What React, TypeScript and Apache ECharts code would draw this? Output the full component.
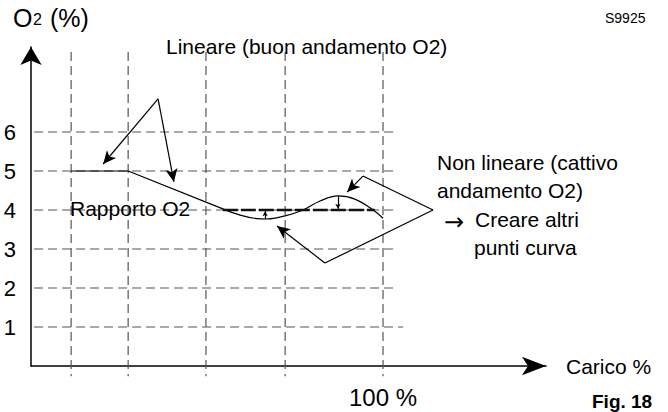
import React, { useEffect, useRef } from "react";
import * as echarts from "echarts";

// ---- data (load % on x, O2 % on y) ----
const yTickLabels = [1, 2, 3, 4, 5, 6];
const guideX = [11.4, 27.6, 49.7, 72.2, 100]; // vertical dashed guides
const guideTop = 8.05;
const guideBottom = -0.26;
const hGuideStart = -3.1;
const hGuideEnd = [105.7, 103.4, 103.4, 103.4, 103.4, 103.4];

const linearPart = [
  [11.4, 5.0],
  [27.6, 5.0],
  [54.5, 4.03],
];
const wavePart = [
  [54.5, 4.03],
  [59.4, 3.87],
  [64.2, 3.78],
  [67.0, 3.77],
  [72.2, 3.85],
  [77.3, 4.0],
  [82.1, 4.23],
  [87.2, 4.36],
  [92.0, 4.28],
  [97.2, 4.0],
  [100.0, 3.79],
];
const targetRatio = [
  [54.5, 4.0],
  [97.7, 4.0],
];

// annotation pointers
const linApex = [36.1, 6.85];
const linTips = [
  [20.5, 5.18],
  [40.6, 4.72],
];
const nlTopCorner = [94.3, 4.87];
const nlTopTip = [89.8, 4.46];
const nlApex = [114.2, 4.0];
const nlBottomCorner = [83.5, 2.64];
const nlBottomTip = [69.9, 3.59];
const devArrows = [
  [[66.5, 3.77], [66.5, 3.97]],
  [[87.2, 4.36], [87.2, 4.03]],
];

const FONT = "'Liberation Sans', Arial, sans-serif";

export default function App() {
  const ref = useRef<HTMLDivElement>(null);
  useEffect(() => {
    if (!ref.current) return;
    const chart = echarts.init(ref.current, null, { renderer: "svg" });

    const gridColor = "#555";
    const dash = [9, 5];
    const series: any[] = [];

    hGuideEnd.forEach((end, i) => {
      const y = yTickLabels[i];
      series.push({
        type: "line",
        clip: false,
        silent: true,
        symbol: "none",
        z: 1,
        data: [
          [hGuideStart, y],
          [end, y],
        ],
        lineStyle: { color: gridColor, width: 1.2, type: dash },
      });
    });
    guideX.forEach((x) => {
      series.push({
        type: "line",
        clip: false,
        silent: true,
        symbol: "none",
        z: 1,
        data: [
          [x, guideTop],
          [x, guideBottom],
        ],
        lineStyle: { color: gridColor, width: 1.2, type: dash },
      });
    });

    series.push({
      type: "line",
      symbol: "none",
      z: 3,
      data: linearPart,
      lineStyle: { color: "#000", width: 1.2 },
    });
    series.push({
      type: "line",
      symbol: "none",
      smooth: 0.4,
      z: 3,
      data: wavePart,
      lineStyle: { color: "#000", width: 1.2 },
    });
    series.push({
      type: "line",
      symbol: "none",
      z: 4,
      data: targetRatio,
      lineStyle: { color: "#111", width: 2.6, type: [15, 3] },
    });

    const seg = (a: number[], b: number[], arrow: boolean, size?: number[]) => [
      { coord: a, symbol: "none" },
      arrow
        ? { coord: b, symbol: "arrow", symbolSize: size || [9, 13] }
        : { coord: b, symbol: "none" },
    ];

    series.push({
      type: "line",
      data: [],
      symbol: "none",
      markLine: {
        silent: true,
        animation: false,
        label: { show: false },
        lineStyle: { color: "#000", width: 1.2, type: "solid" },
        data: [
          seg(linApex, linTips[0], true),
          seg(linApex, linTips[1], true),
          seg(nlTopCorner, nlTopTip, true),
          seg(nlTopCorner, nlApex, false),
          seg(nlApex, nlBottomCorner, false),
          seg(nlBottomCorner, nlBottomTip, true),
          ...devArrows.map((d) => seg(d[0], d[1], true, [4, 5])),
        ],
      },
    });

    const txt = (text: string, x: number, y: number, fontSize: number, extra: any = {}) => ({
      type: "text",
      x,
      y,
      z: 10,
      style: {
        text,
        fontSize,
        fontFamily: FONT,
        fill: "#000",
        verticalAlign: "middle",
        ...extra,
      },
    });

    chart.setOption({
      animation: false,
      textStyle: { fontFamily: FONT },
      grid: { left: 31, right: 122, top: 47, bottom: 46 },
      xAxis: {
        type: "value",
        min: 0,
        max: 146.3,
        interval: 100,
        name: "Carico %",
        nameLocation: "end",
        nameGap: 20,
        nameTextStyle: { fontSize: 21, color: "#000", verticalAlign: "middle" },
        axisLine: {
          lineStyle: { color: "#000", width: 1.5 },
          symbol: ["none", "arrow"],
          symbolSize: [14, 24],
        },
        axisTick: { show: false },
        splitLine: { show: false },
        axisLabel: {
          fontSize: 24,
          color: "#000",
          margin: 19,
          formatter: (v: number) => (v === 100 ? "100 %" : ""),
        },
      },
      yAxis: {
        type: "value",
        min: 0,
        max: 8.18,
        interval: 1,
        axisLine: {
          lineStyle: { color: "#000", width: 1.5 },
          symbol: ["none", "arrow"],
          symbolSize: [16, 18],
        },
        axisTick: { show: false },
        splitLine: { show: false },
        axisLabel: {
          fontSize: 22,
          color: "#000",
          margin: 15,
          formatter: (v: number) => (yTickLabels.indexOf(v) >= 0 ? String(v) : ""),
        },
      },
      graphic: [
        txt("O", 13, 18, 25),
        txt("2", 33, 19.5, 16),
        txt("(%)", 50, 18, 25),
        txt("S9925", 605, 18, 14),
        txt("Lineare (buon andamento O2)", 166, 46.6, 21),
        txt("Rapporto O2", 70, 208.6, 21),
        txt("Non lineare (cattivo", 437, 162.6, 21),
        txt("andamento O2)", 437, 190.6, 21),
        txt("→", 444, 222, 24, { fontFamily: "'DejaVu Sans', sans-serif" }),
        txt("Creare altri", 475, 219.6, 21),
        txt("punti curva", 474, 247.6, 21),
        txt("Fig. 18", 592, 401, 19, { fontWeight: "bold" }),
      ],
      series,
    });
    return () => chart.dispose();
  }, []);
  return (
    <div
      ref={ref}
      style={{ position: "fixed", left: 0, top: 0, width: 668, height: 412, background: "#fff" }}
    />
  );
}
